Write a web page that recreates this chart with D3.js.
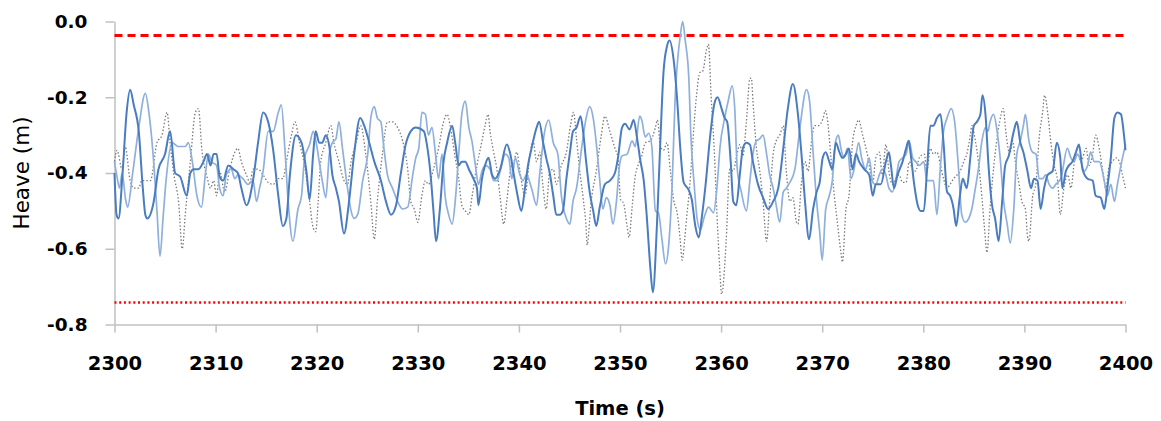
<!DOCTYPE html>
<html>
<head>
<meta charset="utf-8">
<script src="https://cdn.jsdelivr.net/npm/d3@7"></script>
<style>
  body { margin: 0; background: #fff; }
  svg { display: block; }
  .tick text { font-family: "DejaVu Sans", sans-serif; font-weight: bold; fill: #000; }
  .domain, .tick line { stroke: #c0c0c0; stroke-width: 1.5; }
</style>
</head>
<body>
<div id="chart"></div>
<script>
// heave time series, [time (s), heave (m)]
const heaveDark = [
  [2300.0,-0.40],[2300.2,-0.51],[2300.4,-0.52],[2300.8,-0.40],[2301.2,-0.24],[2301.55,-0.18],[2301.9,-0.22],[2302.4,-0.29],[2302.8,-0.44],[2303.05,-0.51],[2303.25,-0.52],[2303.85,-0.48],[2304.35,-0.39],[2305.0,-0.35],[2305.5,-0.29],[2306.0,-0.40],[2306.5,-0.41],[2307.15,-0.46],[2307.5,-0.40],[2307.85,-0.39],[2308.3,-0.39],[2308.8,-0.37],[2309.15,-0.35],[2309.5,-0.38],[2309.8,-0.35],
  [2310.1,-0.35],[2310.4,-0.41],[2310.75,-0.42],[2311.25,-0.38],[2311.75,-0.39],[2312.2,-0.40],[2312.55,-0.44],[2313.05,-0.485],[2313.7,-0.42],[2314.2,-0.32],[2314.7,-0.24],[2315.2,-0.265],[2315.7,-0.34],[2316.2,-0.46],[2316.65,-0.54],[2317.0,-0.52],[2317.35,-0.405],[2317.95,-0.30],[2318.5,-0.32],[2319.0,-0.40],[2319.3,-0.47],[2319.65,-0.35],[2319.9,-0.29],
  [2320.25,-0.32],[2320.55,-0.32],[2320.9,-0.30],[2321.25,-0.33],[2321.55,-0.405],[2321.9,-0.44],[2322.2,-0.475],[2322.7,-0.56],[2323.2,-0.475],[2323.7,-0.35],[2324.3,-0.255],[2324.7,-0.275],[2325.2,-0.32],[2325.7,-0.37],[2326.35,-0.42],[2326.85,-0.475],[2327.35,-0.51],[2327.85,-0.485],[2328.3,-0.405],[2328.8,-0.325],[2329.3,-0.29],[2329.8,-0.28],
  [2330.6,-0.29],[2330.9,-0.325],[2331.25,-0.40],[2331.55,-0.50],[2331.8,-0.58],[2332.2,-0.49],[2332.55,-0.37],[2332.9,-0.32],[2333.4,-0.275],[2333.7,-0.32],[2334.05,-0.38],[2334.35,-0.37],[2334.7,-0.37],[2335.05,-0.39],[2335.5,-0.415],[2335.85,-0.44],[2336.0,-0.485],[2336.35,-0.415],[2336.65,-0.38],[2337.0,-0.36],[2337.35,-0.405],[2337.65,-0.415],[2338.15,-0.39],[2338.8,-0.325],[2339.15,-0.35],[2339.5,-0.405],[2339.8,-0.45],
  [2340.25,-0.50],[2340.6,-0.44],[2340.9,-0.38],[2341.25,-0.335],[2341.75,-0.28],[2342.0,-0.265],[2342.4,-0.32],[2342.7,-0.36],[2343.05,-0.40],[2343.4,-0.46],[2343.7,-0.51],[2344.05,-0.51],[2344.35,-0.50],[2344.7,-0.415],[2345.05,-0.345],[2345.35,-0.29],[2345.7,-0.28],[2346.1,-0.25],[2346.35,-0.29],[2346.65,-0.37],[2347.0,-0.45],[2347.35,-0.50],[2347.65,-0.54],[2348.0,-0.49],[2348.5,-0.43],[2349.0,-0.42],[2349.5,-0.40],[2349.8,-0.36],
  [2350.2,-0.28],[2350.5,-0.27],[2350.95,-0.285],[2351.35,-0.26],[2351.7,-0.31],[2352.0,-0.365],[2352.35,-0.42],[2352.65,-0.515],[2353.0,-0.65],[2353.25,-0.715],[2353.65,-0.54],[2354.0,-0.31],[2354.3,-0.135],[2354.65,-0.065],[2354.9,-0.05],[2355.3,-0.10],[2355.65,-0.205],[2355.95,-0.33],[2356.3,-0.425],[2356.8,-0.445],[2357.1,-0.47],[2357.45,-0.54],[2357.8,-0.57],[2358.1,-0.515],[2358.45,-0.435],[2358.95,-0.295],[2359.35,-0.215],[2359.65,-0.20],
  [2360.05,-0.23],[2360.35,-0.255],[2360.6,-0.265],[2360.95,-0.37],[2361.2,-0.475],[2361.5,-0.485],[2361.85,-0.405],[2362.15,-0.335],[2362.5,-0.32],[2362.85,-0.325],[2363.15,-0.37],[2363.65,-0.43],[2364.15,-0.465],[2364.65,-0.495],[2365.15,-0.475],[2365.65,-0.44],[2366.15,-0.335],[2366.6,-0.23],[2367.1,-0.165],[2367.6,-0.245],[2367.95,-0.35],[2368.3,-0.475],[2368.7,-0.575],[2369.1,-0.495],[2369.45,-0.45],[2369.75,-0.425],
  [2370.05,-0.36],[2370.35,-0.345],[2370.7,-0.37],[2371.0,-0.39],[2371.35,-0.32],[2371.7,-0.345],[2372.0,-0.36],[2372.35,-0.35],[2372.65,-0.335],[2373.0,-0.39],[2373.35,-0.35],[2373.65,-0.37],[2374.15,-0.39],[2374.65,-0.405],[2375.0,-0.46],[2375.3,-0.43],[2375.8,-0.43],[2376.3,-0.37],[2376.6,-0.345],[2376.8,-0.38],[2377.1,-0.44],[2377.45,-0.405],[2377.95,-0.37],[2378.3,-0.335],[2378.55,-0.315],[2378.75,-0.35],[2379.1,-0.43],[2379.45,-0.485],[2379.75,-0.50],
  [2380.05,-0.50],[2380.35,-0.40],[2380.7,-0.275],[2381.0,-0.275],[2381.35,-0.255],[2381.7,-0.245],[2382.0,-0.32],[2382.35,-0.45],[2382.65,-0.46],[2383.0,-0.495],[2383.25,-0.54],[2383.6,-0.465],[2383.9,-0.415],[2384.3,-0.44],[2384.65,-0.36],[2385.0,-0.275],[2385.3,-0.265],[2385.65,-0.245],[2385.85,-0.195],[2386.15,-0.245],[2386.45,-0.38],[2386.8,-0.485],[2387.1,-0.52],[2387.45,-0.58],[2387.8,-0.475],[2388.1,-0.38],[2388.45,-0.355],[2388.95,-0.29],[2389.25,-0.265],[2389.6,-0.32],[2389.9,-0.345],
  [2390.3,-0.395],[2390.65,-0.44],[2390.95,-0.415],[2391.3,-0.42],[2391.6,-0.495],[2391.95,-0.44],[2392.3,-0.405],[2392.8,-0.395],[2393.2,-0.32],[2393.55,-0.36],[2393.75,-0.44],[2394.1,-0.395],[2394.4,-0.38],[2394.75,-0.37],[2395.1,-0.345],[2395.4,-0.325],[2395.75,-0.39],[2396.25,-0.415],[2396.75,-0.42],[2397.05,-0.46],[2397.55,-0.465],[2397.9,-0.495],[2398.2,-0.44],[2398.55,-0.36],[2398.9,-0.255],[2399.2,-0.24],[2399.55,-0.245],[2399.85,-0.30],[2400.0,-0.34]
];

const heaveLight = [
  [2300.0,-0.37],[2300.25,-0.41],[2300.5,-0.44],[2300.75,-0.40],[2301.1,-0.47],[2301.3,-0.49],[2301.8,-0.40],[2302.4,-0.28],[2303.05,-0.19],[2303.4,-0.24],[2303.9,-0.38],[2304.2,-0.50],[2304.5,-0.62],[2304.8,-0.52],[2305.1,-0.42],[2305.7,-0.32],[2306.3,-0.33],[2307.0,-0.33],[2307.3,-0.32],[2307.7,-0.37],[2308.15,-0.46],[2308.6,-0.49],[2309.0,-0.40],[2309.3,-0.35],[2309.6,-0.37],
  [2310.1,-0.38],[2310.4,-0.44],[2310.75,-0.46],[2311.05,-0.405],[2311.55,-0.39],[2311.9,-0.415],[2312.2,-0.405],[2312.7,-0.415],[2313.2,-0.43],[2313.7,-0.42],[2314.05,-0.475],[2314.35,-0.44],[2314.7,-0.395],[2315.2,-0.29],[2315.7,-0.29],[2316.2,-0.24],[2316.5,-0.22],[2316.85,-0.335],[2317.15,-0.465],[2317.65,-0.58],[2318.15,-0.495],[2318.5,-0.46],[2318.8,-0.36],[2319.3,-0.325],[2319.65,-0.29],[2319.95,-0.32],
  [2320.25,-0.37],[2320.55,-0.42],[2320.9,-0.465],[2321.25,-0.35],[2321.55,-0.32],[2321.9,-0.31],[2322.2,-0.265],[2322.55,-0.335],[2323.05,-0.44],[2323.4,-0.50],[2323.7,-0.52],[2324.05,-0.51],[2324.55,-0.42],[2325.05,-0.35],[2325.35,-0.255],[2325.7,-0.225],[2326.0,-0.255],[2326.35,-0.265],[2326.65,-0.335],[2327.0,-0.405],[2327.5,-0.44],[2328.0,-0.475],[2328.5,-0.495],[2329.0,-0.49],[2329.5,-0.405],[2329.8,-0.36],
  [2330.1,-0.335],[2330.4,-0.24],[2330.75,-0.245],[2331.05,-0.30],[2331.4,-0.28],[2331.75,-0.35],[2332.05,-0.415],[2332.4,-0.35],[2332.7,-0.46],[2333.05,-0.51],[2333.4,-0.535],[2333.7,-0.475],[2334.05,-0.35],[2334.35,-0.245],[2334.7,-0.21],[2335.05,-0.28],[2335.35,-0.315],[2335.7,-0.38],[2336.0,-0.43],[2336.35,-0.395],[2336.65,-0.38],[2337.15,-0.39],[2337.5,-0.42],[2337.85,-0.42],[2338.15,-0.395],[2338.65,-0.35],[2339.0,-0.36],[2339.3,-0.415],[2339.65,-0.36],
  [2340.1,-0.405],[2340.4,-0.42],[2340.75,-0.405],[2341.25,-0.44],[2341.75,-0.485],[2342.05,-0.405],[2342.55,-0.29],[2342.95,-0.26],[2343.4,-0.32],[2343.85,-0.35],[2344.2,-0.46],[2344.7,-0.52],[2345.05,-0.535],[2345.35,-0.475],[2345.7,-0.44],[2346.2,-0.335],[2346.65,-0.255],[2347.0,-0.225],[2347.35,-0.255],[2347.65,-0.32],[2348.0,-0.42],[2348.3,-0.495],[2348.65,-0.465],[2349.0,-0.485],[2349.3,-0.535],[2349.65,-0.475],[2349.95,-0.38],
  [2350.2,-0.355],[2350.7,-0.35],[2351.2,-0.315],[2351.5,-0.33],[2351.95,-0.25],[2352.15,-0.26],[2352.5,-0.305],[2352.85,-0.295],[2353.15,-0.33],[2353.5,-0.50],[2353.8,-0.505],[2354.15,-0.575],[2354.5,-0.64],[2354.8,-0.595],[2355.15,-0.435],[2355.45,-0.205],[2355.95,-0.04],[2356.2,0.0],[2356.45,-0.05],[2356.8,-0.145],[2357.0,-0.295],[2357.35,-0.435],[2357.6,-0.515],[2357.95,-0.55],[2358.35,-0.515],[2358.75,-0.49],[2359.25,-0.505],[2359.6,-0.435],[2359.9,-0.33],
  [2360.35,-0.255],[2360.7,-0.21],[2361.1,-0.17],[2361.35,-0.23],[2361.6,-0.39],[2362.0,-0.45],[2362.5,-0.50],[2362.85,-0.42],[2363.15,-0.35],[2363.5,-0.315],[2363.8,-0.31],[2364.15,-0.30],[2364.5,-0.35],[2364.8,-0.405],[2365.15,-0.44],[2365.45,-0.485],[2365.8,-0.53],[2366.15,-0.45],[2366.45,-0.44],[2366.8,-0.425],[2367.3,-0.39],[2367.8,-0.28],[2368.45,-0.18],[2368.75,-0.21],[2369.1,-0.345],[2369.45,-0.475],[2369.75,-0.555],[2370.0,-0.63],
  [2370.35,-0.495],[2370.7,-0.46],[2371.0,-0.42],[2371.3,-0.32],[2371.6,-0.30],[2371.85,-0.335],[2372.15,-0.36],[2372.5,-0.335],[2372.85,-0.415],[2373.15,-0.39],[2373.6,-0.32],[2373.9,-0.36],[2374.3,-0.39],[2374.65,-0.36],[2375.0,-0.425],[2375.3,-0.43],[2375.65,-0.405],[2375.95,-0.39],[2376.3,-0.405],[2376.6,-0.44],[2376.95,-0.45],[2377.3,-0.415],[2377.6,-0.37],[2377.95,-0.36],[2378.3,-0.35],[2378.6,-0.315],[2378.95,-0.36],[2379.25,-0.37],[2379.6,-0.38],
  [2380.05,-0.37],[2380.35,-0.42],[2380.7,-0.42],[2381.0,-0.42],[2381.35,-0.51],[2381.7,-0.38],[2382.0,-0.29],[2382.35,-0.255],[2382.75,-0.23],[2383.1,-0.265],[2383.5,-0.395],[2383.8,-0.51],[2384.15,-0.53],[2384.5,-0.52],[2384.8,-0.495],[2385.15,-0.44],[2385.45,-0.39],[2385.8,-0.315],[2386.15,-0.28],[2386.4,-0.29],[2386.6,-0.265],[2386.95,-0.245],[2387.3,-0.29],[2387.6,-0.36],[2387.95,-0.475],[2388.3,-0.535],[2388.6,-0.585],[2388.95,-0.495],[2389.25,-0.35],[2389.6,-0.315],[2389.9,-0.275],
  [2390.1,-0.245],[2390.45,-0.315],[2390.8,-0.345],[2391.15,-0.35],[2391.45,-0.415],[2391.8,-0.415],[2392.1,-0.405],[2392.45,-0.43],[2392.8,-0.44],[2393.1,-0.43],[2393.6,-0.415],[2394.25,-0.335],[2394.6,-0.36],[2394.9,-0.37],[2395.25,-0.35],[2395.6,-0.37],[2395.9,-0.395],[2396.25,-0.38],[2396.55,-0.345],[2396.9,-0.37],[2397.4,-0.37],[2397.9,-0.42],[2398.2,-0.46],[2398.55,-0.43],[2398.9,-0.475],[2399.2,-0.43],[2399.55,-0.38],[2400.0,-0.325]
];

const heaveGrey = [
  [2300.0,-0.37],[2300.25,-0.34],[2300.75,-0.39],[2301.05,-0.33],[2301.55,-0.42],[2301.9,-0.44],[2302.4,-0.44],[2302.7,-0.42],[2303.05,-0.42],[2303.55,-0.42],[2304.2,-0.32],[2304.7,-0.30],[2305.2,-0.24],[2305.5,-0.32],[2305.85,-0.40],[2306.35,-0.48],[2306.7,-0.60],[2307.0,-0.51],[2307.5,-0.37],[2308.0,-0.24],[2308.3,-0.23],[2308.65,-0.34],[2309.15,-0.41],[2309.5,-0.44],[2309.8,-0.42],
  [2310.1,-0.46],[2310.4,-0.395],[2310.9,-0.45],[2311.4,-0.39],[2311.9,-0.345],[2312.2,-0.335],[2312.55,-0.37],[2313.05,-0.405],[2313.4,-0.425],[2313.7,-0.39],[2314.2,-0.39],[2314.7,-0.405],[2315.2,-0.425],[2315.7,-0.43],[2316.2,-0.415],[2316.65,-0.415],[2317.0,-0.37],[2317.5,-0.30],[2317.85,-0.265],[2318.3,-0.32],[2318.8,-0.38],[2319.3,-0.475],[2319.65,-0.545],[2319.9,-0.555],
  [2320.15,-0.475],[2320.4,-0.37],[2320.9,-0.32],[2321.4,-0.275],[2321.7,-0.32],[2322.2,-0.37],[2322.7,-0.42],[2323.05,-0.43],[2323.4,-0.37],[2323.9,-0.32],[2324.35,-0.275],[2324.85,-0.35],[2325.35,-0.475],[2325.7,-0.575],[2326.0,-0.475],[2326.5,-0.35],[2327.0,-0.265],[2327.5,-0.265],[2328.0,-0.28],[2328.5,-0.315],[2329.0,-0.39],[2329.3,-0.475],[2329.65,-0.495],[2330.0,-0.53],
  [2330.4,-0.46],[2330.75,-0.42],[2331.05,-0.43],[2331.55,-0.39],[2332.05,-0.335],[2332.55,-0.265],[2332.9,-0.245],[2333.2,-0.275],[2333.7,-0.36],[2334.05,-0.415],[2334.35,-0.485],[2334.7,-0.50],[2335.05,-0.51],[2335.35,-0.465],[2335.85,-0.38],[2336.35,-0.315],[2336.65,-0.275],[2336.95,-0.245],[2337.15,-0.29],[2337.5,-0.345],[2337.85,-0.395],[2338.15,-0.465],[2338.5,-0.535],[2338.8,-0.475],[2339.15,-0.395],[2339.5,-0.37],[2339.8,-0.345],
  [2340.1,-0.395],[2340.6,-0.46],[2341.1,-0.35],[2341.4,-0.315],[2341.75,-0.37],[2342.05,-0.345],[2342.4,-0.44],[2342.7,-0.495],[2343.05,-0.395],[2343.4,-0.39],[2343.7,-0.43],[2344.2,-0.38],[2344.7,-0.345],[2345.1,-0.275],[2345.4,-0.24],[2345.7,-0.31],[2346.0,-0.39],[2346.35,-0.465],[2346.65,-0.545],[2346.75,-0.59],[2347.15,-0.475],[2347.65,-0.395],[2348.15,-0.30],[2348.5,-0.25],[2349.0,-0.29],[2349.5,-0.335],[2349.8,-0.36],
  [2350.05,-0.47],[2350.35,-0.48],[2350.7,-0.54],[2350.9,-0.57],[2351.2,-0.49],[2351.5,-0.41],[2351.85,-0.375],[2352.15,-0.355],[2352.5,-0.32],[2353.0,-0.315],[2353.5,-0.28],[2353.7,-0.26],[2354.0,-0.33],[2354.3,-0.34],[2354.65,-0.32],[2355.0,-0.40],[2355.3,-0.47],[2355.65,-0.505],[2355.95,-0.575],[2356.15,-0.63],[2356.4,-0.575],[2356.6,-0.515],[2356.9,-0.435],[2357.2,-0.32],[2357.55,-0.20],[2357.9,-0.135],[2358.2,-0.13],[2358.55,-0.075],[2358.75,-0.06],[2359.0,-0.19],[2359.35,-0.355],[2359.6,-0.515],[2359.85,-0.645],[2360.05,-0.72],
  [2360.5,-0.58],[2360.85,-0.39],[2361.2,-0.395],[2361.5,-0.36],[2361.85,-0.325],[2362.15,-0.355],[2362.5,-0.265],[2362.85,-0.15],[2363.0,-0.15],[2363.15,-0.21],[2363.5,-0.335],[2363.8,-0.39],[2364.15,-0.475],[2364.5,-0.58],[2364.8,-0.475],[2365.15,-0.35],[2365.45,-0.315],[2365.8,-0.30],[2366.15,-0.275],[2366.45,-0.395],[2366.8,-0.475],[2367.1,-0.465],[2367.45,-0.53],[2367.6,-0.535],[2367.95,-0.425],[2368.3,-0.37],[2368.6,-0.395],[2368.95,-0.315],[2369.25,-0.275],[2369.6,-0.275],
  [2370.1,-0.255],[2370.3,-0.235],[2370.5,-0.255],[2370.85,-0.355],[2371.2,-0.46],[2371.5,-0.53],[2371.85,-0.61],[2372.0,-0.635],[2372.35,-0.495],[2372.65,-0.46],[2373.0,-0.32],[2373.35,-0.275],[2373.6,-0.26],[2374.0,-0.30],[2374.5,-0.355],[2375.0,-0.425],[2375.3,-0.36],[2375.65,-0.345],[2375.95,-0.405],[2376.3,-0.325],[2376.6,-0.395],[2376.95,-0.43],[2377.3,-0.415],[2377.6,-0.405],[2377.95,-0.425],[2378.3,-0.425],[2378.6,-0.37],[2378.95,-0.39],[2379.25,-0.395],[2379.6,-0.36],
  [2380.1,-0.35],[2380.35,-0.395],[2380.7,-0.335],[2381.0,-0.35],[2381.35,-0.345],[2381.7,-0.38],[2382.0,-0.415],[2382.35,-0.44],[2382.65,-0.43],[2383.0,-0.415],[2383.35,-0.405],[2383.65,-0.395],[2384.0,-0.37],[2384.3,-0.35],[2384.65,-0.30],[2384.8,-0.275],[2385.15,-0.315],[2385.45,-0.37],[2385.8,-0.465],[2386.05,-0.545],[2386.3,-0.61],[2386.6,-0.495],[2387.1,-0.35],[2387.55,-0.265],[2387.9,-0.23],[2388.2,-0.30],[2388.55,-0.35],[2388.85,-0.315],[2389.1,-0.37],[2389.45,-0.425],[2389.75,-0.475],
  [2390.1,-0.495],[2390.3,-0.565],[2390.45,-0.58],[2390.8,-0.465],[2391.15,-0.425],[2391.45,-0.31],[2391.8,-0.24],[2392.0,-0.195],[2392.3,-0.24],[2392.6,-0.315],[2392.95,-0.38],[2393.3,-0.425],[2393.55,-0.51],[2393.9,-0.44],[2394.3,-0.405],[2394.6,-0.44],[2394.95,-0.37],[2395.25,-0.35],[2395.6,-0.37],[2396.1,-0.335],[2396.4,-0.38],[2396.75,-0.35],[2397.05,-0.30],[2397.4,-0.335],[2397.75,-0.395],[2398.05,-0.44],[2398.4,-0.38],[2398.7,-0.37],[2399.05,-0.36],[2399.4,-0.37],[2399.7,-0.405],[2400.0,-0.44]
];

// limit lines
const upperLimit = -0.037;
const lowerLimit = -0.742;

const xTicks = [2300, 2310, 2320, 2330, 2340, 2350, 2360, 2370, 2380, 2390, 2400];
const yTicks = [-0.8, -0.6, -0.4, -0.2, 0.0];
const yTickLabels = ["-0.8", "-0.6", "-0.4", "-0.2", "0.0"];

const width = 1161;
const height = 421;

const svg = d3
  .select("#chart")
  .append("svg")
  .attr("width", width)
  .attr("height", height);

const x = d3.scaleLinear().domain([2300, 2400]).range([114.5, 1125.5]);
const y = d3.scaleLinear().domain([-0.8, 0]).range([324.5, 21.5]);

// axes
svg
  .append("g")
  .attr("transform", "translate(0,324.5)")
  .call(
    d3
      .axisBottom(x)
      .tickValues(xTicks)
      .tickSize(8)
      .tickSizeOuter(0)
      .tickPadding(24)
      .tickFormat(d3.format("d"))
  )
  .call((g) => g.selectAll("text").style("font-size", "19.5px"));

svg
  .append("g")
  .attr("transform", "translate(114.5,0)")
  .call(
    d3
      .axisLeft(y)
      .tickValues(yTicks)
      .tickSize(9)
      .tickSizeOuter(0)
      .tickPadding(18)
      .tickFormat((d, i) => yTickLabels[i])
  )
  .call((g) => g.selectAll("text").style("font-size", "18.5px"));

// red limit lines
svg
  .append("line")
  .attr("x1", x(2300))
  .attr("x2", x(2400))
  .attr("y1", y(upperLimit))
  .attr("y2", y(upperLimit))
  .attr("stroke", "#ff0000")
  .attr("stroke-width", 3)
  .attr("stroke-dasharray", "8,5");

svg
  .append("line")
  .attr("x1", x(2300))
  .attr("x2", x(2400))
  .attr("y1", y(lowerLimit))
  .attr("y2", y(lowerLimit))
  .attr("stroke", "#ff0000")
  .attr("stroke-width", 2.5)
  .attr("stroke-dasharray", "2,2.7");

const line = d3
  .line()
  .x((d) => x(d[0]))
  .y((d) => y(d[1]))
  .curve(d3.curveMonotoneX);

svg
  .append("path")
  .datum(heaveGrey)
  .attr("d", line)
  .attr("fill", "none")
  .attr("stroke", "#7a7a7a")
  .attr("stroke-width", 1.3)
  .attr("stroke-dasharray", "1.5,2");

svg
  .append("path")
  .datum(heaveLight)
  .attr("d", line)
  .attr("fill", "none")
  .attr("stroke", "#8fb0dc")
  .attr("stroke-width", 1.7);

svg
  .append("path")
  .datum(heaveDark)
  .attr("d", line)
  .attr("fill", "none")
  .attr("stroke", "#4a7cc0")
  .attr("stroke-width", 2);

// axis titles
svg
  .append("text")
  .attr("x", 620)
  .attr("y", 415)
  .attr("text-anchor", "middle")
  .style("font-family", "DejaVu Sans, sans-serif")
  .style("font-weight", "bold")
  .style("font-size", "19.5px")
  .text("Time (s)");

svg
  .append("text")
  .attr("transform", "translate(29,173) rotate(-90)")
  .attr("text-anchor", "middle")
  .style("font-family", "DejaVu Sans, sans-serif")
  .style("font-size", "21.5px")
  .text("Heave (m)");
</script>
</body>
</html>
